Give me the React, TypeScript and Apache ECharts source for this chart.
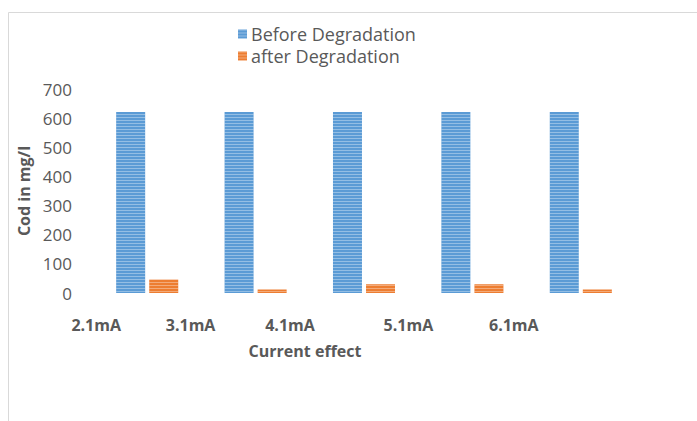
import React, { useEffect, useRef } from "react";
import * as echarts from "echarts";

const categories = ["2.1mA", "3.1mA", "4.1mA", "5.1mA", "6.1mA"];
const beforeValues = [621, 621, 621, 621, 621];
const afterValues = [46, 12, 30, 30, 12];
const yTicks = [0, 100, 200, 300, 400, 500, 600, 700];
const seriesNames = ["Before Degradation", "after Degradation"];
// horizontal shift (px) of each category label relative to its bar group
const labelShift = [51, 65, 74, 64, 67];

const FONT = "'Open Sans', 'Liberation Sans', sans-serif";
const TEXT = "#595959";

export default function App() {
  const ref = useRef<HTMLDivElement>(null);
  useEffect(() => {
    if (!ref.current) return;
    const chart = echarts.init(ref.current, undefined, { renderer: "svg" });
    const rich: Record<string, any> = {};
    labelShift.forEach((s, i) => {
      rich["s" + i] = { padding: [0, s * 2, 0, 0], fontFamily: FONT, fontWeight: "bold", fontSize: 16, color: TEXT };
    });
    const stripe = (c: string) => ({
      symbol: "rect",
      symbolSize: 1,
      dashArrayX: [1, 0],
      dashArrayY: [1, 2],
      rotation: 0,
      color: c,
    });
    chart.setOption({
      animation: false,
      textStyle: { fontFamily: FONT },
      graphic: [
        {
          type: "rect",
          shape: { x: 8.5, y: 12.5, width: 720, height: 430 },
          style: { fill: "none", stroke: "#d9d9d9", lineWidth: 1 },
          silent: true,
        },
      ],
      legend: {
        orient: "vertical",
        left: 233,
        top: 20,
        itemWidth: 9,
        itemHeight: 9,
        itemGap: 4,
        icon: "rect",
        textStyle: { color: TEXT, fontSize: 18, fontFamily: FONT, padding: [0, 0, 0, -1] },
        data: seriesNames,
      },
      grid: { left: 93, right: 62, top: 89, bottom: 128, containLabel: false },
      xAxis: {
        type: "category",
        data: categories,
        axisLine: { show: false },
        axisTick: { show: false },
        axisLabel: {
          interval: 0,
          hideOverlap: false,
          margin: 24,
          fontFamily: FONT,
          fontWeight: "bold",
          fontSize: 16,
          color: TEXT,
          formatter: (v: string, i: number) => `{s${i}|${v}}`,
          rich,
        },
        name: "Current effect",
        nameLocation: "middle",
        nameGap: 50,
        nameTextStyle: {
          fontFamily: FONT,
          fontWeight: "bold",
          fontSize: 16,
          color: TEXT,
          padding: [0, 118, 0, 0],
        },
      },
      yAxis: {
        type: "value",
        min: yTicks[0],
        max: yTicks[yTicks.length - 1],
        interval: 100,
        axisLine: { show: false },
        axisTick: { show: false },
        splitLine: { show: false },
        axisLabel: { margin: 21, fontFamily: FONT, fontSize: 17, color: TEXT },
        name: "Cod in mg/l",
        nameLocation: "middle",
        nameGap: 58,
        nameTextStyle: { fontFamily: FONT, fontWeight: "bold", fontSize: 16, color: TEXT },
      },
      series: [
        {
          name: seriesNames[0],
          type: "bar",
          data: beforeValues,
          barWidth: 29,
          barGap: "14%",
          itemStyle: { color: "#5B9BD5", decal: stripe("rgba(255,255,255,0.35)") },
        },
        {
          name: seriesNames[1],
          type: "bar",
          data: afterValues,
          barWidth: 29,
          barGap: "14%",
          itemStyle: { color: "#ED7D31", decal: stripe("rgba(255,255,255,0.35)") },
        },
      ],
    });
    return () => chart.dispose();
  }, []);
  return (
    <div
      ref={ref}
      style={{ position: "absolute", left: 0, top: 0, width: 697, height: 421, background: "#fff" }}
    />
  );
}
